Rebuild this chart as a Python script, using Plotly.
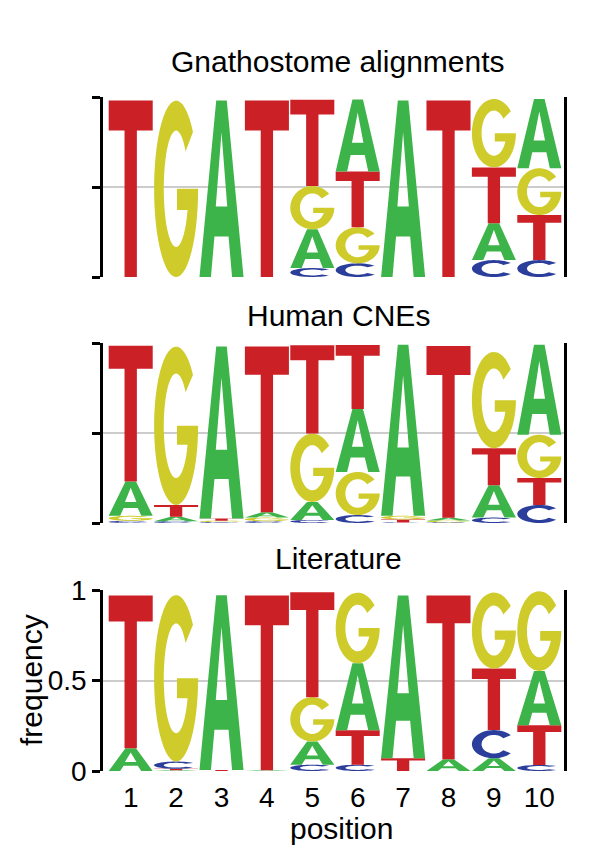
import numpy as np
import plotly.graph_objects as go

# ---------------- data ----------------
positions = list(range(1, 11))
tick_labels = [str(p) for p in positions]
panel_titles = ["Gnathostome alignments", "Human CNEs", "Literature"]
y_tick_vals = [0, 0.5, 1]
y_tick_text = ["0", "0.5", "1"]

# Gnathostome alignments (frequencies per position)
gna_A = [0.0, 0.0, 0.98, 0.0, 0.215, 0.40, 0.98, 0.0, 0.205, 0.385]
gna_C = [0.0, 0.0, 0.0, 0.0, 0.05, 0.076, 0.0, 0.0, 0.094, 0.094]
gna_G = [0.0, 0.98, 0.0, 0.0, 0.24, 0.20, 0.0, 0.0, 0.38, 0.26]
gna_T = [0.98, 0.0, 0.0, 0.98, 0.48, 0.31, 0.0, 0.98, 0.31, 0.25]

# Human CNEs
cne_A = [0.19, 0.025, 0.955, 0.03, 0.10, 0.35, 0.95, 0.015, 0.18, 0.50]
cne_C = [0.012, 0.01, 0.005, 0.01, 0.017, 0.044, 0.003, 0.004, 0.03, 0.10]
cne_G = [0.028, 0.88, 0.008, 0.02, 0.38, 0.24, 0.02, 0.01, 0.535, 0.24]
cne_T = [0.755, 0.065, 0.012, 0.92, 0.49, 0.355, 0.017, 0.955, 0.205, 0.15]

# Literature
lit_A = [0.125, 0.004, 0.965, 0.004, 0.128, 0.37, 0.90, 0.065, 0.07, 0.30]
lit_C = [0.0, 0.04, 0.0, 0.0, 0.035, 0.035, 0.0, 0.0, 0.156, 0.033]
lit_G = [0.0, 0.92, 0.0, 0.0, 0.245, 0.39, 0.0, 0.0, 0.42, 0.44]
lit_T = [0.845, 0.008, 0.006, 0.965, 0.58, 0.19, 0.07, 0.905, 0.34, 0.22]

panels = [
    {"A": gna_A, "C": gna_C, "G": gna_G, "T": gna_T},
    {"A": cne_A, "C": cne_C, "G": cne_G, "T": cne_T},
    {"A": lit_A, "C": lit_C, "G": lit_G, "T": lit_T},
]

# ---------------- styles ----------------
COLORS = {"A": "#3db449", "C": "#2c3e9b", "G": "#cfcb2a", "T": "#cc2027"}
FONT = "Liberation Sans, Arial, Helvetica, sans-serif"
OFF = 8                      # page body margin of the html page
W, H = 600 - OFF, 868 - OFF  # figure size so that it fills the window
X_LEFT, X_RIGHT = 103, 564   # window pixel coordinates below
PANEL_PX = [(97, 277), (343, 523), (590, 771)]
TITLE_Y = [62, 316, 558]
PX_PER_UNIT = 45.4
X_FIRST_EDGE = 108
LETTER_W = 0.97


def px_x(px):
    return (px - OFF) / W


def px_y(py):
    return 1 - (py - OFF) / H


def arc(cx, cy, rx, ry, a0, a1, n=40):
    t = np.radians(np.linspace(a0, a1, n))
    return list(zip(cx + rx * np.cos(t), cy + ry * np.sin(t)))


def glyph_polys(letter):
    if letter == "A":
        outer = [(0, 0), (0.26, 0), (0.34, 0.23), (0.66, 0.23), (0.74, 0),
                 (1, 0), (0.62, 1), (0.38, 1)]
        hole = [(0.37, 0.40), (0.5, 0.82), (0.63, 0.40)]
        return [outer, hole]
    if letter == "T":
        return [[(0, 1), (0, 0.83), (0.36, 0.83), (0.36, 0), (0.64, 0),
                 (0.64, 0.83), (1, 0.83), (1, 1)]]
    rxo, ryo = 0.5, 0.5
    rxi, ryi = 0.28, 0.33
    if letter == "C":
        pts = arc(0.5, 0.5, rxo, ryo, 40, 320) + arc(0.5, 0.5, rxi, ryi, 320, 40)
        return [pts]
    if letter == "G":
        yb = 0.38
        th = np.degrees(np.arcsin((yb - 0.5) / ryi))
        xi = 0.5 + rxi * np.cos(np.radians(th))
        pts = arc(0.5, 0.5, rxo, ryo, 40, 360, 50)
        pts += [(0.52, 0.5), (0.52, yb), (xi, yb)]
        pts += arc(0.5, 0.5, rxi, ryi, th, 40 - 360, 50)
        return [pts]
    return []


def glyph_path(letter, x0, x1, y0, y1):
    parts = []
    for poly in glyph_polys(letter):
        coords = [(x0 + u * (x1 - x0), y0 + v * (y1 - y0)) for u, v in poly]
        s = "M " + " L ".join(f"{x:.5f},{y:.5f}" for x, y in coords) + " Z"
        parts.append(s)
    return " ".join(parts)


fig = go.Figure()
shapes = []
annotations = []

x0r = 0.5 - (X_FIRST_EDGE - X_LEFT) / PX_PER_UNIT
x_range = [x0r, x0r + (X_RIGHT - X_LEFT) / PX_PER_UNIT]

for k, data in enumerate(panels):
    idx = "" if k == 0 else str(k + 1)
    xa, ya = "x" + idx, "y" + idx
    top_px, bot_px = PANEL_PX[k]
    last = (k == 2)

    fig.add_trace(go.Scatter(x=positions, y=[0] * len(positions), mode="markers",
                             marker=dict(opacity=0), hoverinfo="skip",
                             showlegend=False, xaxis=xa, yaxis=ya))

    for i, pos in enumerate(positions):
        col = sorted([(data[l][i], l) for l in "ACGT"], key=lambda t: t[0])
        base = 0.0
        for h, l in col:
            if h > 0.0015:
                shapes.append(dict(
                    type="path",
                    path=glyph_path(l, pos - LETTER_W / 2, pos + LETTER_W / 2, base, base + h),
                    xref=xa, yref=ya, fillcolor=COLORS[l],
                    line=dict(width=0), layer="above"))
            base += h

    fig.update_layout(**{
        ("xaxis" + idx): dict(
            domain=[px_x(X_LEFT), px_x(X_RIGHT)], range=x_range, anchor=ya,
            showgrid=False, zeroline=False, showline=False, ticks="",
            tickvals=positions, ticktext=tick_labels, showticklabels=last,
            tickfont=dict(family=FONT, size=28, color="black"),
            ticklabelstandoff=7, fixedrange=True, automargin=False),
        ("yaxis" + idx): dict(
            domain=[px_y(bot_px), px_y(top_px)], range=[0, 1], anchor=xa,
            tickvals=y_tick_vals, ticktext=y_tick_text, showticklabels=last,
            tickfont=dict(family=FONT, size=28, color="black"),
            ticks="outside", ticklen=8, tickwidth=2.5, tickcolor="black",
            showline=True, linewidth=2.5, linecolor="black", mirror=True,
            showgrid=True, gridcolor="#cccccc", gridwidth=2, zeroline=False,
            fixedrange=True, automargin=False),
    })

    annotations.append(dict(text=panel_titles[k], x=px_x(338), y=px_y(TITLE_Y[k]),
                            xref="paper", yref="paper", xanchor="center", yanchor="middle",
                            showarrow=False, font=dict(family=FONT, size=30, color="black")))

annotations.append(dict(text="position", x=px_x(341), y=px_y(828), xref="paper", yref="paper",
                        xanchor="center", yanchor="middle", showarrow=False,
                        font=dict(family=FONT, size=30, color="black")))
annotations.append(dict(text="frequency", x=px_x(31), y=px_y(680), xref="paper", yref="paper",
                        xanchor="center", yanchor="middle", showarrow=False, textangle=-90,
                        font=dict(family=FONT, size=30, color="black")))

fig.update_layout(width=W, height=H, margin=dict(l=0, r=0, t=0, b=0, autoexpand=False),
                  template="none",
                  paper_bgcolor="white", plot_bgcolor="white",
                  shapes=shapes, annotations=annotations, showlegend=False)

fig.write_html("out.html")
